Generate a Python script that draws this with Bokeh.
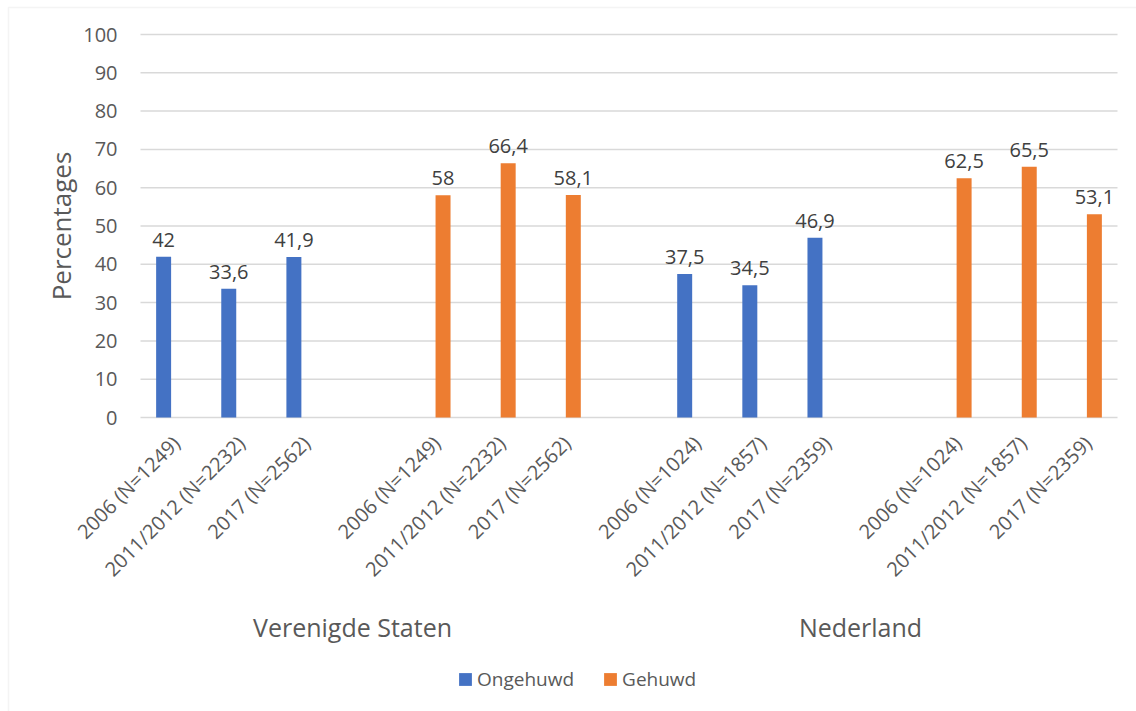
from math import pi

from bokeh.core.properties import value
from bokeh.embed import file_html
from bokeh.models import BoxAnnotation, ColumnDataSource, Legend, LegendItem
from bokeh.plotting import figure
from bokeh.resources import INLINE

# --- data -------------------------------------------------------------------
vs_labels = ["2006 (N=1249)", "2011/2012 (N=2232)", "2017 (N=2562)"]
nl_labels = ["2006 (N=1024)", "2011/2012 (N=1857)", "2017 (N=2359)"]
countries = ["Verenigde Staten", "Nederland"]
series_names = ["Ongehuwd", "Gehuwd"]
y_ticks = [0, 10, 20, 30, 40, 50, 60, 70, 80, 90, 100]

vs_ongehuwd = [42, 33.6, 41.9]
vs_gehuwd = [58, 66.4, 58.1]
nl_ongehuwd = [37.5, 34.5, 46.9]
nl_gehuwd = [62.5, 65.5, 53.1]

# --- layout -----------------------------------------------------------------
W, H = 1136, 711
PLOT_L, PLOT_R, PLOT_T, PLOT_B = 140, 1117, 34, 417   # plot area in pixels
N_SLOTS = 15
FONT = "Open Sans"
BLUE = "#4472C4"
ORANGE = "#ED7D31"
GRID = "#d9d9d9"
TEXT = "#595959"
VALUE_TEXT = "#404040"

# category slots along the axis (a blank slot separates each block of three)
slots_vs_ong = [0, 1, 2]
slots_vs_geh = [4, 5, 6]
slots_nl_ong = [8, 9, 10]
slots_nl_geh = [12, 13, 14]
BAR_W = 0.23
OFFSET = 0.145

# the frame covers the whole canvas; ranges are chosen so that the slots
# -0.5 .. 14.5 and the values 0 .. 100 fall on the plot area above
px_per_slot = (PLOT_R - PLOT_L) / N_SLOTS
px_per_unit = (PLOT_B - PLOT_T) / 100.0
x_start = -0.5 - PLOT_L / px_per_slot
x_end = N_SLOTS - 0.5 + (W - PLOT_R) / px_per_slot
y_end = 100 + PLOT_T / px_per_unit
y_start = -(H - PLOT_B) / px_per_unit


def xd(px):
    return x_start + px / px_per_slot


def yd(py):
    return y_end - py / px_per_unit


def fmt(v):
    return f"{v:g}".replace(".", ",")


p = figure(width=W, height=H, x_range=(x_start, x_end), y_range=(y_start, y_end),
           output_backend="svg", toolbar_location=None,
           x_axis_location=None, y_axis_location=None,
           min_border=0)
p.outline_line_color = None
p.grid.grid_line_color = None
p.background_fill_color = "white"
p.border_fill_color = "white"

# horizontal gridlines (the one at 0 doubles as the category axis line)
p.segment(x0=[-0.5] * len(y_ticks), x1=[N_SLOTS - 0.5] * len(y_ticks),
          y0=y_ticks, y1=y_ticks, line_color=GRID, line_width=1.5)

blue_x = [s - OFFSET for s in slots_vs_ong + slots_nl_ong]
blue_y = vs_ongehuwd + nl_ongehuwd
orange_x = [s + OFFSET for s in slots_vs_geh + slots_nl_geh]
orange_y = vs_gehuwd + nl_gehuwd

src_b = ColumnDataSource(dict(x=blue_x, top=blue_y, lbl=[fmt(v) for v in blue_y]))
src_o = ColumnDataSource(dict(x=orange_x, top=orange_y, lbl=[fmt(v) for v in orange_y]))

rb = p.vbar(x="x", top="top", width=BAR_W, bottom=0, source=src_b,
            fill_color=BLUE, line_color=None)
ro = p.vbar(x="x", top="top", width=BAR_W, bottom=0, source=src_o,
            fill_color=ORANGE, line_color=None)

for src in (src_b, src_o):
    p.text(x="x", y="top", text="lbl", source=src, text_align="center",
           text_baseline="alphabetic", y_offset=-17,
           text_font=value(FONT), text_font_size="20px", text_color=VALUE_TEXT)

# value axis labels
p.text(x=[-0.5] * len(y_ticks), y=y_ticks, text=[str(t) for t in y_ticks],
       x_offset=-23, text_align="right", text_baseline="middle",
       text_font=value(FONT), text_font_size="20px", text_color=TEXT)
p.text(x=[xd(60)], y=[50], text=["Percentages"], angle=pi / 2,
       text_align="center", text_baseline="middle",
       text_font=value(FONT), text_font_size="26px", text_color=TEXT)

# category labels, rotated 45 degrees
tick_pos = slots_vs_ong + slots_vs_geh + slots_nl_ong + slots_nl_geh
tick_txt = vs_labels + vs_labels + nl_labels + nl_labels
p.text(x=tick_pos, y=[0] * len(tick_pos), text=tick_txt, angle=pi / 4,
       x_offset=3, y_offset=22, text_align="right", text_baseline="middle",
       text_font=value(FONT), text_font_size="20px", text_color=TEXT)

# country names under each block
p.text(x=[xd(352), xd(860)], y=[yd(626)] * 2, text=countries,
       text_align="center", text_baseline="middle",
       text_font=value(FONT), text_font_size="25px", text_color=TEXT)

# legend at the bottom
legend = Legend(items=[LegendItem(label=series_names[0], renderers=[rb]),
                       LegendItem(label=series_names[1], renderers=[ro])],
                orientation="horizontal", location=(457, 19),
                padding=0, margin=0, spacing=28, label_standoff=4,
                glyph_width=16, glyph_height=16, label_height=20,
                border_line_color=None, background_fill_alpha=0,
                label_text_font=FONT, label_text_font_size="19px",
                label_text_color=TEXT)
p.add_layout(legend, "center")

# chart area border
p.add_layout(BoxAnnotation(left=xd(8), right=xd(W + 20), top=yd(7), bottom=yd(H + 20),
                           fill_alpha=0, line_color=GRID, line_width=1.5,
                           level="underlay"))

open("out.html", "w").write(file_html(p, INLINE))
